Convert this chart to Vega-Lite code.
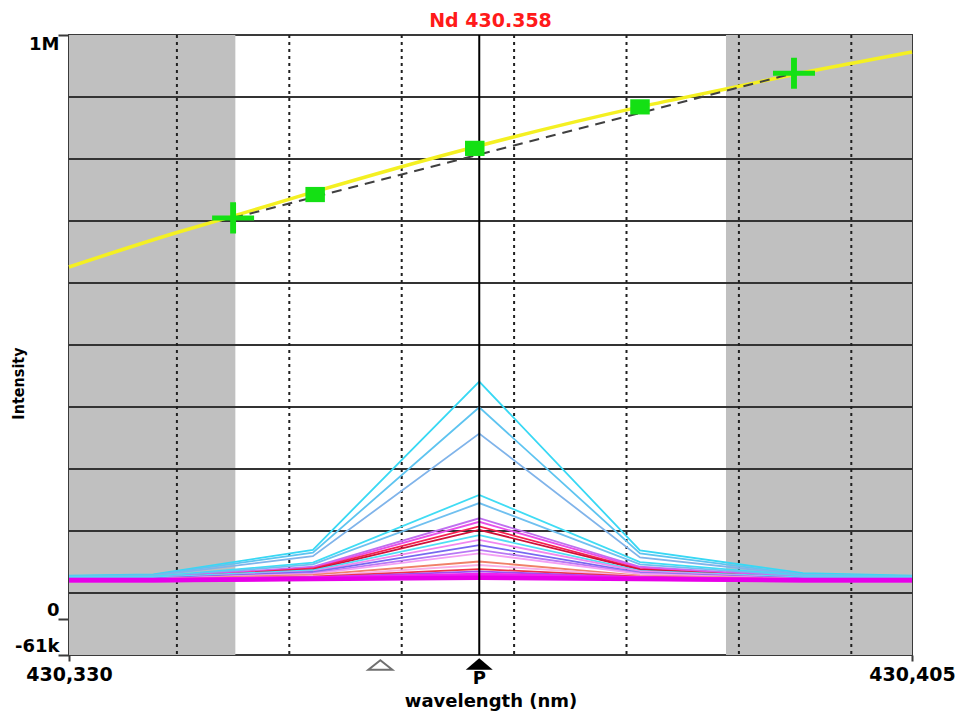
{
  "$schema": "https://vega.github.io/schema/vega-lite/v6.json",
  "autosize": {"type": "none"},
  "width": 843,
  "height": 620,
  "padding": {"left": 69, "top": 35, "right": 49, "bottom": 56},
  "background": "white",
  "config": {
    "view": {"stroke": "#3a3a3a", "strokeWidth": 2},
    "font": "DejaVu Sans"
  },
  "title": {
    "text": "Nd 430.358",
    "color": "#ff1a1a",
    "font": "DejaVu Sans",
    "fontSize": 19,
    "fontWeight": "bold",
    "anchor": "middle",
    "baseline": "alphabetic",
    "offset": 8,
    "dy": 20
  },
  "datasets": {
    "bands": [
      {"a": 430.330, "b": 430.3448},
      {"a": 430.38845, "b": 430.405}
    ],
    "hgrid": [
      {"v": 45100}, {"v": 151200}, {"v": 257300}, {"v": 363400}, {"v": 469500},
      {"v": 575600}, {"v": 681700}, {"v": 787800}, {"v": 893900}
    ],
    "vgrid": [
      {"w": 430.3396}, {"w": 430.3496}, {"w": 430.3596}, {"w": 430.3696},
      {"w": 430.3796}, {"w": 430.3896}, {"w": 430.3996}
    ],
    "peak": [{"w": 430.3665}],
    "spectra": [
      {"s": "s01", "w": 430.330, "v": 75000}, {"s": "s01", "w": 430.3375, "v": 77000}, {"s": "s01", "w": 430.3517, "v": 119000}, {"s": "s01", "w": 430.3665, "v": 407000}, {"s": "s01", "w": 430.3808, "v": 118000}, {"s": "s01", "w": 430.3953, "v": 79000}, {"s": "s01", "w": 430.405, "v": 75000},
      {"s": "s02", "w": 430.330, "v": 74000}, {"s": "s02", "w": 430.3375, "v": 76000}, {"s": "s02", "w": 430.3517, "v": 114000}, {"s": "s02", "w": 430.3665, "v": 363000}, {"s": "s02", "w": 430.3808, "v": 113000}, {"s": "s02", "w": 430.3953, "v": 77000}, {"s": "s02", "w": 430.405, "v": 74000},
      {"s": "s03", "w": 430.330, "v": 73000}, {"s": "s03", "w": 430.3375, "v": 75000}, {"s": "s03", "w": 430.3517, "v": 108000}, {"s": "s03", "w": 430.3665, "v": 318000}, {"s": "s03", "w": 430.3808, "v": 106000}, {"s": "s03", "w": 430.3953, "v": 76000}, {"s": "s03", "w": 430.405, "v": 73000},
      {"s": "s04", "w": 430.330, "v": 73000}, {"s": "s04", "w": 430.3375, "v": 73000}, {"s": "s04", "w": 430.3517, "v": 97000}, {"s": "s04", "w": 430.3665, "v": 213000}, {"s": "s04", "w": 430.3808, "v": 98000}, {"s": "s04", "w": 430.3953, "v": 75000}, {"s": "s04", "w": 430.405, "v": 73000},
      {"s": "s05", "w": 430.330, "v": 72000}, {"s": "s05", "w": 430.3375, "v": 72000}, {"s": "s05", "w": 430.3517, "v": 94000}, {"s": "s05", "w": 430.3665, "v": 199000}, {"s": "s05", "w": 430.3808, "v": 94000}, {"s": "s05", "w": 430.3953, "v": 74000}, {"s": "s05", "w": 430.405, "v": 72000},
      {"s": "s06", "w": 430.330, "v": 71000}, {"s": "s06", "w": 430.3375, "v": 71000}, {"s": "s06", "w": 430.3517, "v": 90000}, {"s": "s06", "w": 430.3665, "v": 173000}, {"s": "s06", "w": 430.3808, "v": 90000}, {"s": "s06", "w": 430.3953, "v": 72000}, {"s": "s06", "w": 430.405, "v": 71000},
      {"s": "s07", "w": 430.330, "v": 71000}, {"s": "s07", "w": 430.3375, "v": 71000}, {"s": "s07", "w": 430.3517, "v": 88000}, {"s": "s07", "w": 430.3665, "v": 167000}, {"s": "s07", "w": 430.3808, "v": 88000}, {"s": "s07", "w": 430.3953, "v": 71000}, {"s": "s07", "w": 430.405, "v": 71000},
      {"s": "s08", "w": 430.330, "v": 70000}, {"s": "s08", "w": 430.3375, "v": 70000}, {"s": "s08", "w": 430.3517, "v": 87000}, {"s": "s08", "w": 430.3665, "v": 159000}, {"s": "s08", "w": 430.3808, "v": 86000}, {"s": "s08", "w": 430.3953, "v": 70000}, {"s": "s08", "w": 430.405, "v": 70000},
      {"s": "s09", "w": 430.330, "v": 70000}, {"s": "s09", "w": 430.3375, "v": 70000}, {"s": "s09", "w": 430.3517, "v": 85000}, {"s": "s09", "w": 430.3665, "v": 153000}, {"s": "s09", "w": 430.3808, "v": 85000}, {"s": "s09", "w": 430.3953, "v": 70000}, {"s": "s09", "w": 430.405, "v": 70000},
      {"s": "s10", "w": 430.330, "v": 72000}, {"s": "s10", "w": 430.3375, "v": 72000}, {"s": "s10", "w": 430.3517, "v": 84000}, {"s": "s10", "w": 430.3665, "v": 144000}, {"s": "s10", "w": 430.3808, "v": 83000}, {"s": "s10", "w": 430.3953, "v": 72000}, {"s": "s10", "w": 430.405, "v": 72000},
      {"s": "s11", "w": 430.330, "v": 70000}, {"s": "s11", "w": 430.3375, "v": 70000}, {"s": "s11", "w": 430.3517, "v": 82000}, {"s": "s11", "w": 430.3665, "v": 136000}, {"s": "s11", "w": 430.3808, "v": 82000}, {"s": "s11", "w": 430.3953, "v": 70000}, {"s": "s11", "w": 430.405, "v": 70000},
      {"s": "s12", "w": 430.330, "v": 70000}, {"s": "s12", "w": 430.3375, "v": 70000}, {"s": "s12", "w": 430.3517, "v": 81000}, {"s": "s12", "w": 430.3665, "v": 127000}, {"s": "s12", "w": 430.3808, "v": 80000}, {"s": "s12", "w": 430.3953, "v": 70000}, {"s": "s12", "w": 430.405, "v": 70000},
      {"s": "s13", "w": 430.330, "v": 69000}, {"s": "s13", "w": 430.3375, "v": 69000}, {"s": "s13", "w": 430.3517, "v": 79000}, {"s": "s13", "w": 430.3665, "v": 119000}, {"s": "s13", "w": 430.3808, "v": 79000}, {"s": "s13", "w": 430.3953, "v": 69000}, {"s": "s13", "w": 430.405, "v": 69000},
      {"s": "s14", "w": 430.330, "v": 69000}, {"s": "s14", "w": 430.3375, "v": 69000}, {"s": "s14", "w": 430.3517, "v": 78000}, {"s": "s14", "w": 430.3665, "v": 113000}, {"s": "s14", "w": 430.3808, "v": 78000}, {"s": "s14", "w": 430.3953, "v": 69000}, {"s": "s14", "w": 430.405, "v": 69000},
      {"s": "s15", "w": 430.330, "v": 69000}, {"s": "s15", "w": 430.3375, "v": 69000}, {"s": "s15", "w": 430.3517, "v": 76000}, {"s": "s15", "w": 430.3665, "v": 99000}, {"s": "s15", "w": 430.3808, "v": 75000}, {"s": "s15", "w": 430.3953, "v": 69000}, {"s": "s15", "w": 430.405, "v": 69000},
      {"s": "s16", "w": 430.330, "v": 68000}, {"s": "s16", "w": 430.3375, "v": 68000}, {"s": "s16", "w": 430.3517, "v": 74000}, {"s": "s16", "w": 430.3665, "v": 93000}, {"s": "s16", "w": 430.3808, "v": 74000}, {"s": "s16", "w": 430.3953, "v": 68000}, {"s": "s16", "w": 430.405, "v": 68000},
      {"s": "s17", "w": 430.330, "v": 68000}, {"s": "s17", "w": 430.3375, "v": 68000}, {"s": "s17", "w": 430.3517, "v": 73000}, {"s": "s17", "w": 430.3665, "v": 86000}, {"s": "s17", "w": 430.3808, "v": 73000}, {"s": "s17", "w": 430.3953, "v": 68000}, {"s": "s17", "w": 430.405, "v": 68000},
      {"s": "s18", "w": 430.330, "v": 68000}, {"s": "s18", "w": 430.3375, "v": 68000}, {"s": "s18", "w": 430.3517, "v": 72000}, {"s": "s18", "w": 430.3665, "v": 82000}, {"s": "s18", "w": 430.3808, "v": 72000}, {"s": "s18", "w": 430.3953, "v": 68000}, {"s": "s18", "w": 430.405, "v": 68000},
      {"s": "s19", "w": 430.330, "v": 67000}, {"s": "s19", "w": 430.3375, "v": 67000}, {"s": "s19", "w": 430.3517, "v": 70000}, {"s": "s19", "w": 430.3665, "v": 76000}, {"s": "s19", "w": 430.3808, "v": 70000}, {"s": "s19", "w": 430.3953, "v": 67000}, {"s": "s19", "w": 430.405, "v": 67000},
      {"s": "s20", "w": 430.330, "v": 67000}, {"s": "s20", "w": 430.3375, "v": 67000}, {"s": "s20", "w": 430.3517, "v": 69000}, {"s": "s20", "w": 430.3665, "v": 71000}, {"s": "s20", "w": 430.3808, "v": 69000}, {"s": "s20", "w": 430.3953, "v": 67000}, {"s": "s20", "w": 430.405, "v": 67000}
    ],
    "curve": [
      {"w": 430.330, "v": 603000}, {"w": 430.3396, "v": 662000}, {"w": 430.3446, "v": 690000},
      {"w": 430.3517, "v": 731000}, {"w": 430.366, "v": 808000}, {"w": 430.3808, "v": 877000},
      {"w": 430.3895, "v": 912000}, {"w": 430.3944, "v": 932000}, {"w": 430.3998, "v": 952000},
      {"w": 430.405, "v": 971000}
    ],
    "fit": [
      {"w": 430.3446, "v": 687000}, {"w": 430.3945, "v": 934500}
    ],
    "markers": [
      {"kind": "cross", "w": 430.3446, "v": 687000},
      {"kind": "square", "w": 430.3519, "v": 727000},
      {"kind": "square", "w": 430.3661, "v": 806000},
      {"kind": "square", "w": 430.3808, "v": 877000},
      {"kind": "cross", "w": 430.3945, "v": 934500}
    ],
    "arrows": [
      {"kind": "open", "w": 430.3577, "v": -78100},
      {"kind": "filled", "w": 430.3665, "v": -76400}
    ],
    "plabel": [{"w": 430.3665, "v": -102000, "t": "P"}]
  },
  "encoding": {
    "x": {
      "field": "w", "type": "quantitative",
      "scale": {"domain": [430.330, 430.405], "nice": false, "zero": false},
      "axis": {
        "title": "wavelength (nm)",
        "values": [430.330, 430.405],
        "labelExpr": "replace(format(datum.value, '.3f'), '.', ',')",
        "labelFont": "DejaVu Sans", "labelFontSize": 19, "labelFontWeight": "bold", "labelColor": "black",
        "labelFlush": false, "labelOverlap": false, "labelPadding": 4, "labelBaseline": "top",
        "grid": false, "domain": false,
        "tickSize": 6, "tickWidth": 2, "tickColor": "#3a3a3a",
        "titleFont": "DejaVu Sans", "titleFontSize": 18, "titleFontWeight": "bold", "titleColor": "black",
        "titleX": 421.5, "titleY": 46, "titleBaseline": "middle", "titleAnchor": "middle"
      }
    },
    "y": {
      "field": "v", "type": "quantitative",
      "scale": {"domain": [-61000, 1000000], "nice": false, "zero": false},
      "axis": {
        "title": "Intensity",
        "values": [-61000, 0, 1000000],
        "labelExpr": "datum.value == 1000000 ? '1M' : (datum.value == 0 ? '0' : '-61k')",
        "labelFont": "DejaVu Sans", "labelFontSize": 18, "labelFontWeight": "bold", "labelColor": "black",
        "labelBaseline": {"condition": {"test": "datum.value == 1000000", "value": "top"}, "value": "bottom"},
        "labelFlush": false, "labelOverlap": false, "labelPadding": -1,
        "grid": false, "domain": false,
        "tickSize": 11, "tickWidth": 2, "tickColor": "#3a3a3a",
        "titleFont": "DejaVu Sans Condensed", "titleFontSize": 16, "titleFontWeight": "bold", "titleColor": "black",
        "titleAngle": 270, "titleX": -51, "titleY": 348, "titleAlign": "center", "titleBaseline": "middle"
      }
    }
  },
  "layer": [
    {
      "data": {"name": "bands"},
      "mark": {"type": "rect", "color": "#c0c0c0"},
      "encoding": {"x": {"field": "a", "type": "quantitative"}, "x2": {"field": "b"}, "y": null}
    },
    {
      "data": {"name": "hgrid"},
      "mark": {"type": "rule", "color": "#333333", "strokeWidth": 2.2},
      "encoding": {"x": null, "y": {"field": "v", "type": "quantitative"}}
    },
    {
      "data": {"name": "vgrid"},
      "mark": {"type": "rule", "color": "#202020", "strokeWidth": 2, "strokeDash": [3, 4]},
      "encoding": {"x": {"field": "w", "type": "quantitative"}, "y": null}
    },
    {
      "data": {"name": "spectra"},
      "mark": {"type": "line", "interpolate": "linear"},
      "encoding": {
        "detail": {"field": "s"},
        "color": {
          "field": "s", "type": "nominal", "legend": null,
          "scale": {
            "domain": ["s01","s02","s03","s04","s05","s06","s07","s08","s09","s10","s11","s12","s13","s14","s15","s16","s17","s18","s19","s20"],
            "range": ["#38d8f4","#5ec4f0","#80b4ea","#40dcf4","#70c0f0","#c070f0","#e850e8","#f42050","#d01038","#50def4","#f088f0","#7868f0","#b878f4","#f4a0f4","#f08068","#f8b0e8","#f03048","#9a50f0","#f020f0","#e800e8"]
          }
        },
        "strokeWidth": {"condition": {"test": "datum.s == 's19' || datum.s == 's20'", "value": 4.5}, "value": 1.8}
      }
    },
    {
      "data": {"name": "peak"},
      "mark": {"type": "rule", "color": "black", "strokeWidth": 2},
      "encoding": {"x": {"field": "w", "type": "quantitative"}, "y": null}
    },
    {
      "data": {"name": "curve"},
      "mark": {"type": "line", "color": "#f4f022", "strokeWidth": 3.5, "interpolate": "monotone"},
      "encoding": {}
    },
    {
      "data": {"name": "fit"},
      "mark": {"type": "line", "color": "#404040", "strokeWidth": 2, "strokeDash": [10, 7]},
      "encoding": {}
    },
    {
      "data": {"name": "markers"},
      "transform": [{"filter": "datum.kind == 'square'"}],
      "mark": {"type": "point", "filled": true, "color": "#14e014", "opacity": 1, "size": 380, "shape": "M-1,-0.78H1V0.78H-1Z"},
      "encoding": {}
    },
    {
      "data": {"name": "markers"},
      "transform": [{"filter": "datum.kind == 'cross'"}],
      "mark": {"type": "point", "filled": true, "color": "#14e014", "opacity": 1, "size": 1764, "shape": "M-1,-0.12H1V0.12H-1ZM-0.14,-0.74H0.14V0.74H-0.14Z"},
      "encoding": {}
    },
    {
      "data": {"name": "arrows"},
      "transform": [{"filter": "datum.kind == 'open'"}],
      "mark": {"type": "point", "filled": true, "fill": "white", "stroke": "#707070", "strokeWidth": 2, "opacity": 1, "size": 576, "shape": "M0,-0.4L1,0.4H-1Z"},
      "encoding": {}
    },
    {
      "data": {"name": "arrows"},
      "transform": [{"filter": "datum.kind == 'filled'"}],
      "mark": {"type": "point", "filled": true, "color": "black", "opacity": 1, "size": 729, "shape": "M0,-0.42L1,0.42H-1Z"},
      "encoding": {}
    },
    {
      "data": {"name": "plabel"},
      "mark": {"type": "text", "font": "DejaVu Sans", "fontSize": 18, "fontWeight": "bold", "color": "black", "align": "center", "baseline": "middle"},
      "encoding": {"text": {"field": "t"}}
    }
  ]
}
